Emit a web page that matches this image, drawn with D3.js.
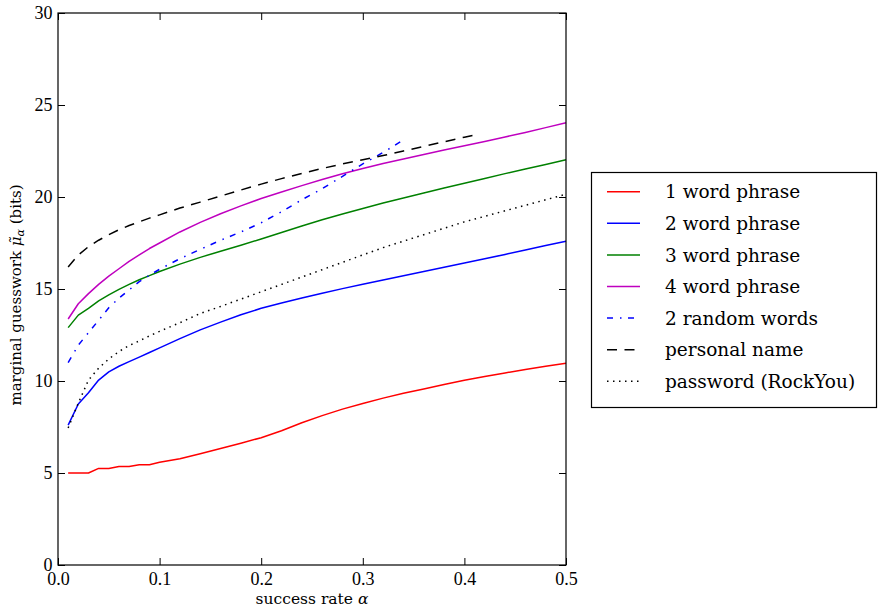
<!DOCTYPE html>
<html>
<head>
<meta charset="utf-8">
<script src="https://cdn.jsdelivr.net/npm/d3@7"></script>
<style>
  html, body { margin: 0; padding: 0; background: #fff; }
  svg { display: block; }
</style>
</head>
<body>
<svg id="chart" width="878" height="608"></svg>
<script>
// ---------------- data ----------------
const alphaFull  = [0.01,0.02,0.03,0.04,0.05,0.06,0.07,0.08,0.09,0.10,
                    0.12,0.14,0.16,0.18,0.20,0.22,0.24,0.26,0.28,0.30,
                    0.32,0.34,0.36,0.38,0.40,0.42,0.44,0.46,0.48,0.50];
const alphaWords = [0.01,0.02,0.03,0.04,0.05,0.06,0.07,0.08,0.09,0.10,
                    0.12,0.14,0.16,0.18,0.20,0.22,0.24,0.26,0.28,0.30,0.32,0.34];
const alphaNames = [0.01,0.02,0.03,0.04,0.05,0.06,0.07,0.08,0.09,0.10,
                    0.12,0.14,0.16,0.18,0.20,0.22,0.24,0.26,0.28,0.30,
                    0.32,0.34,0.36,0.38,0.40,0.41];

const oneWord   = [5.0,5.0,5.0,5.25,5.25,5.35,5.35,5.45,5.45,5.58,
                   5.78,6.05,6.33,6.62,6.92,7.3,7.73,8.12,8.47,8.78,
                   9.07,9.33,9.57,9.81,10.04,10.24,10.44,10.62,10.8,10.97];
const twoWord   = [7.6,8.75,9.36,10.05,10.5,10.8,11.05,11.3,11.55,11.8,
                   12.3,12.78,13.2,13.6,13.95,14.24,14.51,14.77,15.02,15.26,
                   15.49,15.72,15.95,16.18,16.41,16.64,16.88,17.12,17.36,17.6];
const threeWord = [12.9,13.58,13.95,14.35,14.68,14.98,15.25,15.5,15.73,15.95,
                   16.35,16.72,17.05,17.38,17.72,18.07,18.42,18.76,19.08,19.38,
                   19.67,19.95,20.22,20.49,20.75,21.01,21.27,21.52,21.77,22.02];
const fourWord  = [13.37,14.2,14.75,15.25,15.7,16.1,16.5,16.85,17.2,17.5,
                   18.1,18.62,19.09,19.52,19.92,20.27,20.62,20.95,21.26,21.55,
                   21.82,22.07,22.31,22.55,22.79,23.02,23.26,23.51,23.77,24.04];
const randomWords = [11.0,11.95,12.63,13.3,13.98,14.5,14.95,15.4,15.75,16.07,
                     16.65,17.15,17.65,18.1,18.6,19.2,19.85,20.45,21.12,21.8,22.42,23.1];
const personalName = [16.2,16.85,17.3,17.65,17.95,18.22,18.45,18.65,18.85,19.03,
                      19.4,19.72,20.05,20.38,20.7,21.0,21.28,21.55,21.8,22.02,
                      22.25,22.5,22.75,23.0,23.25,23.37];
const rockYou   = [7.45,8.8,10.05,10.7,11.2,11.6,11.93,12.18,12.45,12.7,
                   13.17,13.67,14.05,14.45,14.85,15.25,15.65,16.05,16.45,16.85,
                   17.25,17.6,17.95,18.3,18.65,18.95,19.25,19.55,19.85,20.15];

const seriesNames = ["1 word phrase","2 word phrase","3 word phrase","4 word phrase",
                     "2 random words","personal name","password (RockYou)"];
const xTicks = [0.0,0.1,0.2,0.3,0.4,0.5];
const yTicks = [0,5,10,15,20,25,30];

// ---------------- styles ----------------
const styles = [
  {color:"#ff0000", dash:null},
  {color:"#0000ff", dash:null},
  {color:"#008000", dash:null},
  {color:"#bf00bf", dash:null},
  {color:"#0000ff", dash:"6,7,1.5,6.5"},
  {color:"#000000", dash:"10,7.5"},
  {color:"#000000", dash:"1.5,4.5"}
];
const series = [
  {a:alphaFull,  v:oneWord},
  {a:alphaFull,  v:twoWord},
  {a:alphaFull,  v:threeWord},
  {a:alphaFull,  v:fourWord},
  {a:alphaWords, v:randomWords},
  {a:alphaNames, v:personalName},
  {a:alphaFull,  v:rockYou}
];

const L = 58, R = 566, T = 13, B = 565;
const svg = d3.select("#chart");
const x = d3.scaleLinear().domain([0,0.5]).range([L,R]);
const y = d3.scaleLinear().domain([0,30]).range([B,T]);

const tickFont = "'Liberation Serif', serif";
const textFont = "'DejaVu Serif', serif";

// lines
const line = d3.line().x(d => x(d[0])).y(d => y(d[1]));
const plot = svg.append("g");
series.forEach((s,i) => {
  const pts = s.a.map((a,k) => [a, s.v[k]]);
  plot.append("path")
    .attr("d", line(pts))
    .attr("fill","none")
    .attr("stroke", styles[i].color)
    .attr("stroke-width", 1.5)
    .attr("stroke-dasharray", styles[i].dash)
    .attr("stroke-linecap","butt")
    .attr("stroke-linejoin","round");
});

// axes (inward ticks on all sides)
const gx = svg.append("g").attr("transform",`translate(0,${B})`)
  .call(d3.axisBottom(x).tickValues(xTicks).tickSize(-7).tickFormat(d3.format(".1f")));
const gy = svg.append("g").attr("transform",`translate(${L},0)`)
  .call(d3.axisLeft(y).tickValues(yTicks).tickSize(-7).tickFormat(d3.format("d")));
const gt = svg.append("g").attr("transform",`translate(0,${T})`)
  .call(d3.axisTop(x).tickValues(xTicks).tickSize(-7).tickFormat(""));
const gr = svg.append("g").attr("transform",`translate(${R},0)`)
  .call(d3.axisRight(y).tickValues(yTicks).tickSize(-7).tickFormat(""));
[gx,gy,gt,gr].forEach(g => {
  g.select(".domain").remove();
  g.selectAll(".tick line").attr("stroke","#000").attr("stroke-width",1);
});
gx.selectAll(".tick text")
  .attr("y", 20).attr("dy", 0)
  .attr("font-family", tickFont).attr("font-size", 18).attr("fill","#000");
gy.selectAll(".tick text")
  .attr("x", -5.5).attr("dy", "0.33em")
  .attr("font-family", tickFont).attr("font-size", 18).attr("fill","#000");

// frame
svg.append("rect")
  .attr("x", L).attr("y", T).attr("width", R-L).attr("height", B-T)
  .attr("fill","none").attr("stroke","#000").attr("stroke-width",1.2);

// axis labels
const xl = svg.append("text")
  .attr("x", (L+R)/2).attr("y", 604)
  .attr("text-anchor","middle")
  .attr("font-family", textFont).attr("font-size", 15.5).attr("fill","#000");
xl.append("tspan").text("success rate ");
xl.append("tspan").attr("font-style","italic").text("α");

const yl = svg.append("text")
  .attr("transform", `translate(21,${(T+B)/2 + 6}) rotate(-90)`)
  .attr("text-anchor","middle")
  .attr("font-family", textFont).attr("font-size", 15).attr("fill","#000");
yl.append("tspan").text("marginal guesswork  ");
yl.append("tspan").attr("font-style","italic").text("μ\u0303");
yl.append("tspan").attr("font-style","italic").attr("font-size", 11).attr("dy", 3).text("α");
yl.append("tspan").attr("dy", -3).text(" (bits)");

// legend
const lg = svg.append("g");
lg.append("rect")
  .attr("x", 591.5).attr("y", 172.5).attr("width", 285).attr("height", 235)
  .attr("fill","#fff").attr("stroke","#000").attr("stroke-width",1.2);
const rowY0 = 191.7, rowStep = 31.6;
seriesNames.forEach((name,i) => {
  const ry = rowY0 + i*rowStep;
  lg.append("line")
    .attr("x1", 607).attr("x2", 640).attr("y1", ry).attr("y2", ry)
    .attr("stroke", styles[i].color).attr("stroke-width", 1.5)
    .attr("stroke-dasharray", styles[i].dash);
  lg.append("text")
    .attr("x", 665).attr("y", ry).attr("dy","0.36em")
    .attr("font-family", textFont).attr("font-size", 18.5).attr("fill","#000")
    .text(name);
});
</script>
</body>
</html>
